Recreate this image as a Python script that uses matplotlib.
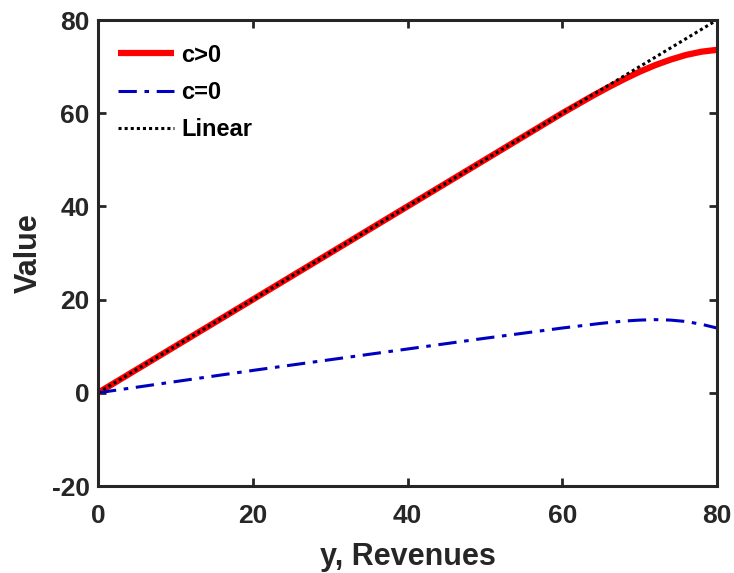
import matplotlib
matplotlib.use("Agg")
import matplotlib.pyplot as plt
import numpy as np

plt.rcParams['font.family'] = ['Liberation Sans', 'DejaVu Sans']
plt.rcParams['font.weight'] = 'bold'
plt.rcParams['axes.unicode_minus'] = False

x_red = [0, 10, 20, 30, 40, 50, 60, 62, 64, 66, 68, 70, 72, 74, 76, 78, 80]
y_red = [0, 10, 20, 30, 40, 50, 60, 61.9, 63.8, 65.6, 67.3, 68.9, 70.3, 71.5, 72.5, 73.2, 73.6]

x_blue = [0, 10, 20, 30, 40, 50, 55, 60, 65, 68, 70, 72, 74, 76, 78, 80]
y_blue = [0, 2.4, 4.8, 7.1, 9.4, 11.7, 12.8, 13.9, 14.9, 15.4, 15.6, 15.7, 15.6, 15.3, 14.7, 13.9]

x_lin = [0, 80]
y_lin = [0, 80]

xticks = [0, 20, 40, 60, 80]
yticks = [-20, 0, 20, 40, 60, 80]

fig = plt.figure(figsize=(7.34, 5.73), dpi=100)
ax = fig.add_axes([98/734, 1-486/573, (717-98)/734, (486-20)/573])

ax.plot(x_red, y_red, color='#ff0000', lw=4.5, label='c>0', solid_capstyle='butt')
ax.plot(x_blue, y_blue, color='#0000c0', lw=2.2, ls=(0, (6, 2.5, 1.5, 2.5)), label='c=0')
ax.plot(x_lin, y_lin, color='black', lw=2.2, ls=(0, (1, 1)), label='Linear')

ax.set_xlim(0, 80)
ax.set_ylim(-20, 80)
ax.set_xticks(xticks)
ax.set_yticks(yticks)
ax.tick_params(direction='in', length=6, width=2, top=True, right=True,
               labelsize=19, colors='#262626')
ax.tick_params(axis='x', pad=13)
ax.tick_params(axis='y', pad=6)
for lab in ax.get_xticklabels() + ax.get_yticklabels():
    lab.set_fontweight('bold')
for s in ax.spines.values():
    s.set_linewidth(2.2)
    s.set_color('#262626')

ax.set_xlabel('y, Revenues', fontsize=22, fontweight='bold', color='#262626', labelpad=10)
ax.set_ylabel('Value', fontsize=22, fontweight='bold', color='#262626', labelpad=6)

leg = ax.legend(loc='upper left', bbox_to_anchor=(-4/619, 1.0), frameon=False,
                fontsize=17, handlelength=2.4,
                borderaxespad=0.45, labelspacing=0.6, handletextpad=0.3,
                borderpad=0.55)
for t in leg.get_texts():
    t.set_fontweight('bold')

fig.savefig('out.png', dpi=100)
